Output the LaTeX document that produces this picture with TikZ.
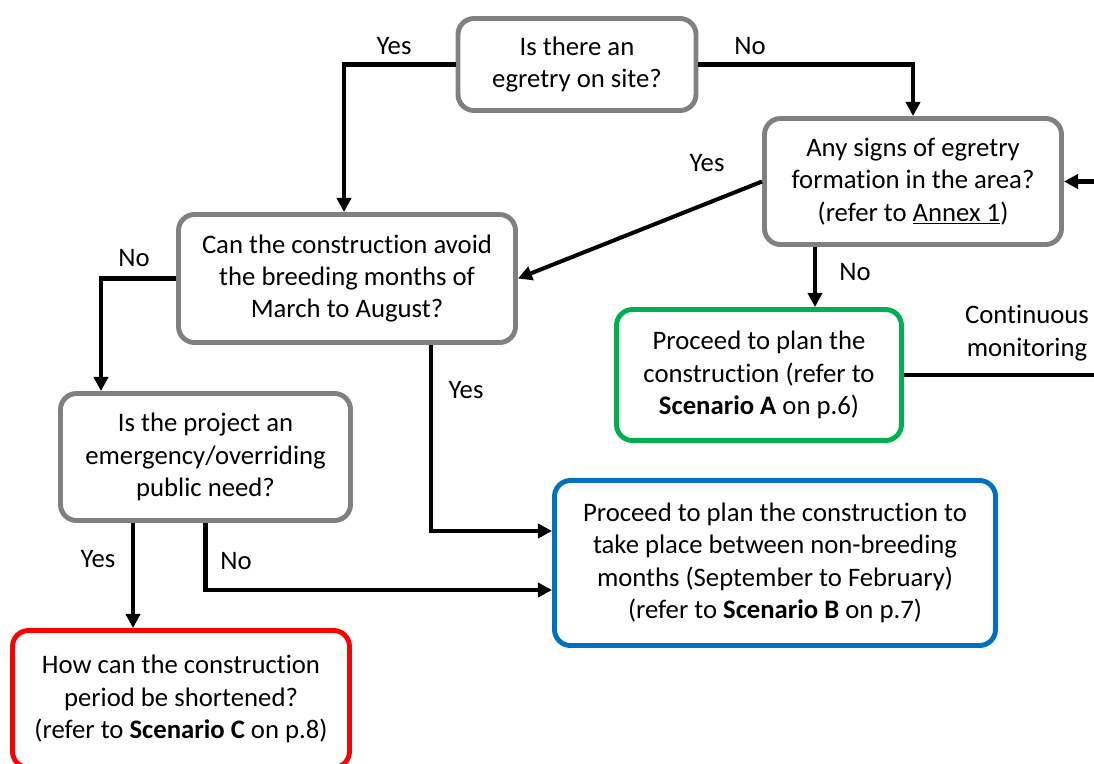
\documentclass[tikz,border=0pt]{standalone}
\usepackage{fontspec}
\setmainfont[Ligatures=NoCommon]{Carlito}
\usepackage{xcolor}
\usepackage{tikz}
\usetikzlibrary{arrows.meta}

\definecolor{boxgray}{RGB}{128,128,128}
\definecolor{boxgreen}{RGB}{0,176,80}
\definecolor{boxblue}{RGB}{0,112,192}
\definecolor{boxred}{RGB}{255,0,0}

\begin{document}
\begin{tikzpicture}[
  font=\fontsize{15.2}{18.4}\selectfont,
  question/.style={draw=boxgray,line width=2.8pt,rounded corners=0.32cm,
    fill=white,align=center,inner sep=0pt},
  answer/.style={question},
  flow/.style={draw,line width=2.3pt,-{Triangle[length=8pt,width=8pt]}},
  plain/.style={draw,line width=2.3pt},
  lbl/.style={inner sep=0pt,align=center}
  ]
\useasboundingbox (0,0) rectangle (21.88,-15.26);
\clip (0,0) rectangle (21.88,-15.26);

% Questions
\node[question,minimum width=4.76cm,minimum height=1.84cm] (site) at (11.54,-1.29)
  {Is there an\\egretry on site?};
\node[question,minimum width=5.94cm,minimum height=2.52cm] (signs) at (18.26,-3.63)
  {Any signs of egretry\\formation in the area?\\(refer to \underline{Annex 1})};
\node[question,minimum width=6.74cm,minimum height=2.56cm] (avoid) at (6.94,-5.57)
  {Can the construction avoid\\the breeding months of\\March to August?};
\node[question,minimum width=5.8cm,minimum height=2.54cm] (need) at (4.11,-9.14)
  {Is the project an\\emergency/overriding\\public need?};

% Outcomes
\node[answer,draw=boxgreen,minimum width=5.7cm,minimum height=2.62cm] (scenA) at (15.18,-7.5)
  {Proceed to plan the\\construction (refer to\\\textbf{Scenario A} on p.6)};
\node[answer,draw=boxblue,minimum width=8.82cm,minimum height=3.3cm] (scenB) at (15.5,-11.26)
  {Proceed to plan the construction to\\take place between non-breeding\\months (September to February)\\(refer to \textbf{Scenario B} on p.7)};
\node[answer,draw=boxred,minimum width=6.74cm,minimum height=2.74cm] (scenC) at (3.62,-13.98)
  {How can the construction\\period be shortened?\\(refer to \textbf{Scenario C} on p.8)};

% Loose ends at the right edge
\coordinate (edgeR) at (21.95,0);

% Connectors
\draw[flow] (site.west) -| ([xshift=-0.06cm]avoid.north);
\draw[flow] (site.east) -| (signs.north);
\draw[flow] (signs.west) -- (avoid.east);
\draw[flow] ([xshift=-1.96cm]signs.south) -- ([xshift=-1.96cm]signs.south |- scenA.north);
\draw[plain] (scenA.east) -- (scenA.east -| edgeR);
\draw[flow] (signs.east -| edgeR) -- (signs.east);
\draw[flow] (avoid.west) -| ([xshift=-2.09cm]need.north);
\draw[flow] ([xshift=1.68cm]avoid.south) |- ([yshift=0.64cm]scenB.west);
\draw[flow] ([xshift=-1.45cm]need.south) -- ([xshift=-1.45cm]need.south |- scenC.north);
\draw[flow] (need.south) |- ([yshift=-0.54cm]scenB.west);

% Labels
\node[lbl] (yes1) at (7.88,-0.92) {Yes};
\node[lbl] (no1) at (15.0,-0.92) {No};
\node[lbl] (yes2) at (14.14,-3.26) {Yes};
\node[lbl] (no2) at (17.1,-5.44) {No};
\node[lbl] (mon) at (20.54,-6.66) {Continuous\\monitoring};
\node[lbl] (no3) at (2.68,-5.16) {No};
\node[lbl] (yes3) at (9.32,-7.8) {Yes};
\node[lbl] (yes4) at (1.96,-11.18) {Yes};
\node[lbl] (no4) at (4.72,-11.22) {No};

\end{tikzpicture}
\end{document}
